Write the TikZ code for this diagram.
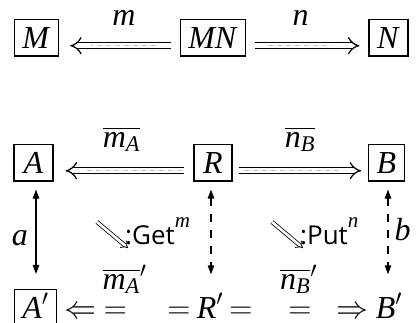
\documentclass[tikz,border=0pt]{standalone}
\usepackage{fix-cm}
\usepackage{amsmath}
\usepackage{fontspec}
\setmainfont{Liberation Serif}
\newfontfamily\labsans{Open Sans}
\newfontfamily\labit{Liberation Serif Italic}
\usetikzlibrary{arrows.meta}
\begin{document}
\begin{tikzpicture}[x=1pt,y=-1pt,
  every node/.style={font=\fontsize{32}{38}\selectfont},
  box/.style={draw, line width=1.1pt, inner xsep=8pt, inner ysep=0.5pt, text height=28pt, text depth=7.5pt},
  plain/.style={inner xsep=8pt, inner ysep=0.5pt, text height=28pt, text depth=0pt},
  dbl/.style={double, double distance=4.8pt, line width=1.25pt, -{Implies}},
  midd/.style={draw=gray!45, line width=0.6pt, dash pattern=on 5pt off 4pt},
  vtip/.style={line width=1.1pt, {Triangle[length=9pt,width=6.5pt]}-{Triangle[length=9pt,width=6.5pt]}},
  vdash/.style={vtip, dash pattern=on 8pt off 8pt},
  sw/.style={double, double distance=2.6pt, line width=0.8pt, -{Implies}},
  lbl/.style={anchor=base, inner sep=0pt},
  sanslbl/.style={anchor=base west, inner sep=0pt, font=\fontsize{26}{32}\selectfont\labsans}]
\useasboundingbox (0,0) rectangle (417,322);
% top row
\node[box, anchor=base] (M) at (36.5,48) {\textit{M}};
\node[box, anchor=base] (MN) at (213,48) {\textit{MN}};
\node[box, anchor=base, minimum width=39pt] (N) at (388.5,48) {\textit{N}};
\draw[dbl, shorten <=9pt, shorten >=11pt] (MN.mid west) -- (M.mid east);
\draw[midd, shorten <=24pt, shorten >=32pt] (MN.mid west) -- (M.mid east);
\draw[dbl, shorten <=9pt, shorten >=9pt] (MN.mid east) -- (N.mid west);
\draw[midd, shorten <=22pt, shorten >=36pt] (MN.mid east) -- (N.mid west);
\node[lbl] (lm) at (124,25) {\textit{m}};
\node[lbl] (ln) at (300.5,25) {\textit{n}};
% middle row
\node[box, anchor=base, minimum width=39pt] (A) at (33.5,173) {\textit{A}};
\node[box, anchor=base, minimum width=38pt] (R) at (213,173) {\textit{R}};
\node[box, anchor=base] (B) at (386.5,173) {\textit{B}};
\draw[dbl, shorten <=9pt, shorten >=12pt] (R.mid west) -- (A.mid east);
\draw[midd, shorten <=11pt, shorten >=30pt] (R.mid west) -- (A.mid east);
\draw[dbl, shorten <=6pt, shorten >=7pt] (R.mid east) -- (B.mid west);
\draw[midd, shorten <=11pt, shorten >=26pt] (R.mid east) -- (B.mid west);
\node[lbl] (lma) at (121.5,147) {$\overline{\textit{m}_{\textit{A}}}$};
\node[lbl] (lnb) at (300,147) {$\overline{\textit{n}_{\textit{B}}}$};
% bottom row
\node[box, anchor=base] (Ap) at (35.5,318) {$\textit{A}'$};
\node[plain, anchor=base] (Rp) at (210,318) {$\textit{R}'$};
\node[plain, anchor=base] (Bp) at (389,318) {$\textit{B}'$};
\node[lbl] (la) at (80.5,318) {$\Leftarrow$};
\node[lbl] (e1) at (115.5,318) {$=$};
\node[lbl] (e2) at (179,318) {$=$};
\node[lbl] (e3) at (241,318) {$=$};
\node[lbl] (e4) at (300,318) {$=$};
\node[lbl] (ra) at (352,318) {$\Rightarrow$};
\node[lbl] (lmap) at (124.5,289) {$\overline{\textit{m}_{\textit{A}}}'$};
\node[lbl] (lnbp) at (298.5,289) {$\overline{\textit{n}_{\textit{B}}}'$};
% verticals
\draw[vtip, shorten <=8pt, shorten >=15pt] ([xshift=2.5pt]A.south) -- ([xshift=2.5pt]A.south |- Ap.north);
\draw[vdash, shorten <=8pt, shorten >=15pt] ([xshift=-2pt]R.south) -- ([xshift=-2pt]R.south |- Rp.north);
\draw[vdash, shorten <=8pt, shorten >=15pt] ([xshift=1.5pt]B.south) -- ([xshift=1.5pt]B.south |- Bp.north);
\node[lbl] (la2) at (20,245) {\textit{a}};
\node[lbl] (lb) at (402.5,240) {\textit{b}};
% 2-cells
\coordinate (g1) at (97,222);
\coordinate (g2) at (128,248);
\draw[sw] (g1) -- (g2);
\node[sanslbl] (get) at (125,244) {:Get\raisebox{17pt}{\fontsize{21}{24}\selectfont\labit m}};
\coordinate (p1) at (272,222);
\coordinate (p2) at (303,248);
\draw[sw] (p1) -- (p2);
\node[sanslbl] (put) at (300,244) {:Put\raisebox{17pt}{\fontsize{21}{24}\selectfont\labit n}};
\end{tikzpicture}
\end{document}
